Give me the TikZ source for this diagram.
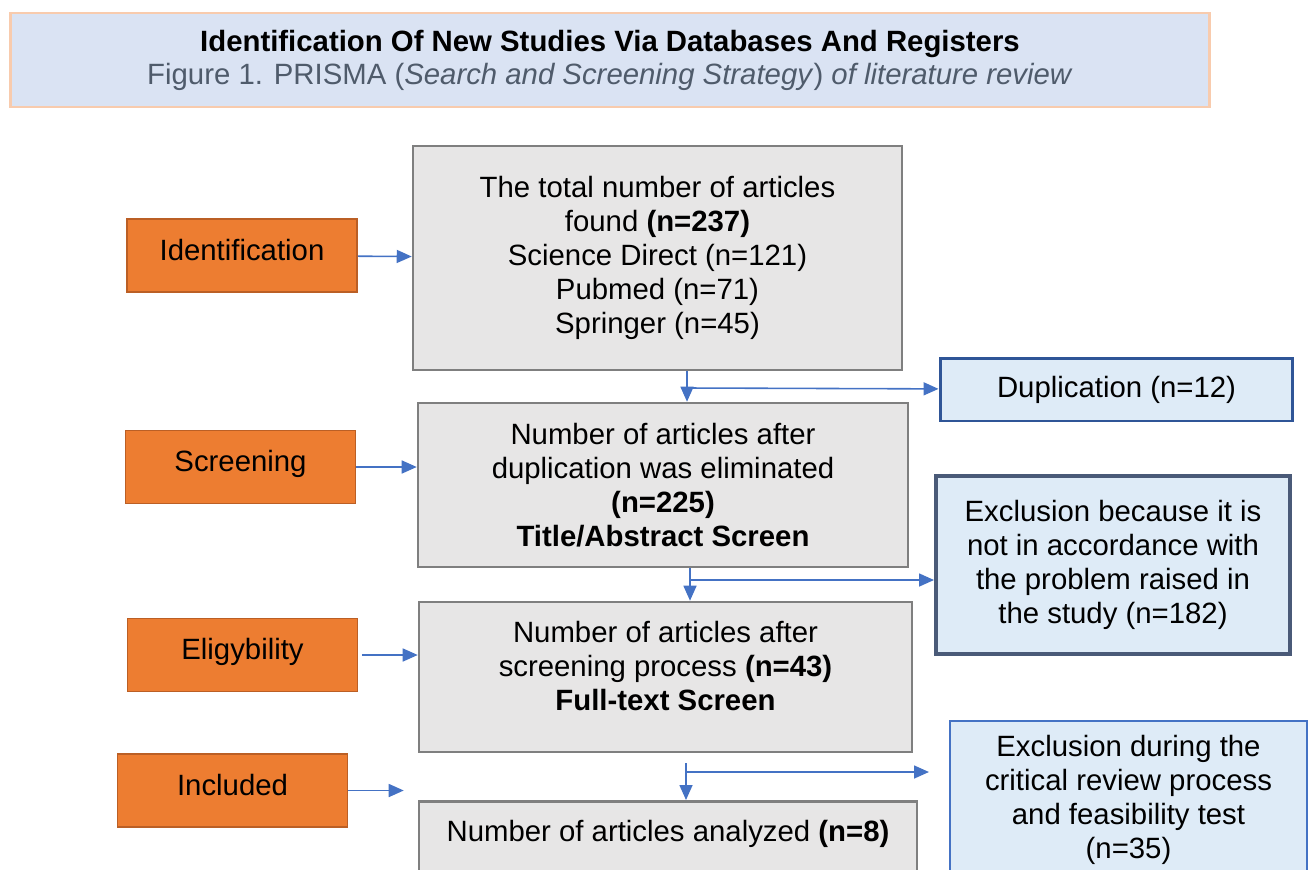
\documentclass[tikz,border=0pt]{standalone}
\usepackage{fontspec}
\setmainfont{Liberation Sans}
\usetikzlibrary{arrows.meta}

\definecolor{stagefill}{HTML}{ED7D31}
\definecolor{stageline}{HTML}{BB5F25}
\definecolor{greyfill}{HTML}{E7E6E6}
\definecolor{greyline}{HTML}{7F7F7F}
\definecolor{sidefill}{HTML}{DEEBF7}
\definecolor{dupline}{HTML}{2F5597}
\definecolor{exclline}{HTML}{4A5A78}
\definecolor{blueline}{HTML}{4472C4}
\definecolor{titlefill}{HTML}{DAE3F3}
\definecolor{titleline}{HTML}{F8CBAD}
\definecolor{subgrey}{HTML}{4F5B6B}

\newcommand{\bodyfont}{\fontsize{16.7}{19.4}\selectfont}

\tikzset{
  stage/.style={draw=stageline, line width=1.1pt, fill=stagefill, minimum width=4.6cm,
    inner ysep=0pt, text height=0.82cm, text depth=0.64cm, font=\bodyfont},
  greybox/.style={draw=greyline, line width=1.5pt, fill=greyfill, align=center, font=\bodyfont},
  sidebox/.style={fill=sidefill, align=center, font=\bodyfont},
  flow/.style={draw=blueline, line width=0.9pt, -{Triangle[length=0.3cm, width=0.26cm]}}
}

\begin{document}
\begin{tikzpicture}[x=0.02cm, y=-0.02cm]

    \useasboundingbox (0,0) rectangle (1311,869);
    \clip (0,0) rectangle (1311,869);

    % title
    \node (title) [draw=titleline, line width=1.6pt, fill=titlefill, minimum width=24cm,
      minimum height=1.88cm, align=center, font=\fontsize{16.7}{18.8}\selectfont] at (610,60)
      {\textbf{Identification Of New Studies Via Databases And Registers}\\
       {\color{subgrey}Figure 1. PRISMA (\textit{Search and Screening Strategy}) \textit{of literature review}}};

    % stages
    \node (ident) [stage] at (242,255.5) {Identification};
    \node (screen) [stage] at (240.5,467) {Screening};
    \node (elig) [stage] at (242.5,655) {Eligybility};
    \node (incl) [stage] at (232.5,790.5) {Included};

    % main boxes
    \node (found) [greybox, minimum width=9.78cm, minimum height=4.48cm] at (657.5,258)
      {The total number of articles\\ found \textbf{(n=237)}\\ Science Direct (n=121)\\ Pubmed (n=71)\\ Springer (n=45)};
    \node (dupl) [greybox, minimum width=9.8cm, minimum height=3.28cm] at (663,485)
      {Number of articles after\\ duplication was eliminated\\ \textbf{(n=225)}\\ \textbf{Title/Abstract Screen}};
    \node (full) [greybox, minimum width=9.86cm, minimum height=3cm] at (665.5,677) {};
    \node (fulltxt) [align=center, font=\bodyfont] at (665.5,666)
      {Number of articles after\\ screening process \textbf{(n=43)}\\ \textbf{Full-text Screen}};
    \node (final) [draw=greyline, line width=1.5pt, fill=greyfill, font=\bodyfont, anchor=north,
      minimum width=9.96cm, inner ysep=0pt, text height=0.8cm, text depth=1.2cm] at (668,800)
      {Number of articles analyzed \textbf{(n=8)}};

    % excluded
    \node (dup) [sidebox, draw=dupline, line width=1.7pt, minimum width=7.06cm, minimum height=1.26cm]
      at (1116.5,389.5) {Duplication (n=12)};
    \node (excl1) [sidebox, draw=exclline, line width=2.3pt, minimum width=7.08cm, minimum height=3.56cm]
      at (1113,565) {Exclusion because it is\\ not in accordance with\\ the problem raised in\\ the study (n=182)};
    \node (excl2) [sidebox, draw=blueline, line width=1.2pt, minimum width=7.14cm, minimum height=3.16cm]
      at (1128.5,800) {Exclusion during the\\ critical review process\\ and feasibility test\\ (n=35)};

    % arrows stages
    \draw[flow] (ident) -- (found);
    \draw[flow] (screen) -- (screen -| dupl.west);
    \draw[flow, shorten <=2pt] (elig) -- (elig -| full.west);
    \draw[flow, shorten >=0.28cm] (incl) -- (incl -| final.west);

    % split arrows
    \coordinate (s1) at (687,388);
    \draw[flow] (s1 |- found.south) -- (s1 |- dupl.north);
    \draw[flow] (s1) -- (dup);
    \coordinate (s2) at (690,580);
    \draw[flow] (s2 |- dupl.south) -- (s2 |- full.north);
    \draw[flow] (s2) -- (s2 -| excl1.west);
    \coordinate (s3) at (686,772);
    \draw[flow, shorten <=0.2cm] (s3 |- full.south) -- (s3 |- final.north);
    \draw[flow, shorten >=0.4cm] (s3) -- (s3 -| excl2.west);

\end{tikzpicture}
\end{document}
